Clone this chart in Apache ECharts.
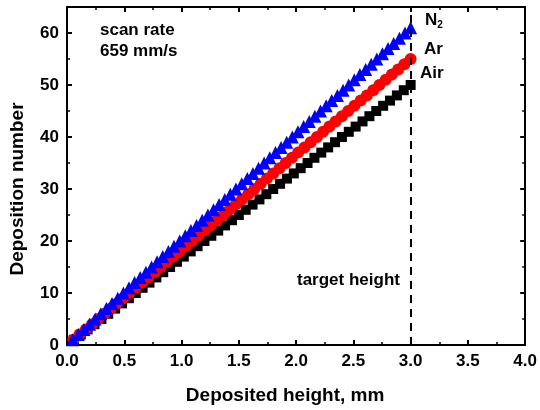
<!DOCTYPE html>
<html lang="en">
<head>
    <meta charset="UTF-8">
    <title>Deposition number vs height</title>
    <script src="https://cdn.jsdelivr.net/npm/echarts@6/dist/echarts.min.js"></script>
    <style>
        body { margin: 0; background: #fff; }
    </style>
</head>
<body>
    <div id="main" style="width: 540px;height: 410px"></div>
    <script type="text/javascript">
        // deposition numbers (layer count)
        var layerNo = [1,2,3,4,5,6,7,8,9,10,11,12,13,14,15,16,17,18,19,20,
            21,22,23,24,25,26,27,28,29,30,31,32,33,34,35,36,37,38,39,40,
            41,42,43,44,45,46,47,48,49,50,51,52,53,54,55,56,57,58,59,60,61];

        // deposited height (mm) for each layer
        var airHeight = [0.06,0.12,0.18,0.24,0.30,0.36,0.42,0.48,0.54,0.60,
            0.66,0.72,0.78,0.84,0.90,0.96,1.02,1.08,1.14,1.20,
            1.26,1.32,1.38,1.44,1.50,1.56,1.62,1.68,1.74,1.80,
            1.86,1.92,1.98,2.04,2.10,2.16,2.22,2.28,2.34,2.40,
            2.46,2.52,2.58,2.64,2.70,2.76,2.82,2.88,2.94,3.00];
        var arHeight = [0.055,0.109,0.164,0.218,0.273,0.327,0.382,0.436,0.491,0.545,
            0.600,0.655,0.709,0.764,0.818,0.873,0.927,0.982,1.036,1.091,
            1.145,1.200,1.255,1.309,1.364,1.418,1.473,1.527,1.582,1.636,
            1.691,1.745,1.800,1.855,1.909,1.964,2.018,2.073,2.127,2.182,
            2.236,2.291,2.345,2.400,2.455,2.509,2.564,2.618,2.673,2.727,
            2.782,2.836,2.891,2.945,3.000];
        var n2Height = [0.049,0.098,0.148,0.197,0.246,0.295,0.344,0.393,0.443,0.492,
            0.541,0.590,0.639,0.689,0.738,0.787,0.836,0.885,0.934,0.984,
            1.033,1.082,1.131,1.180,1.230,1.279,1.328,1.377,1.426,1.475,
            1.525,1.574,1.623,1.672,1.721,1.770,1.820,1.869,1.918,1.967,
            2.016,2.066,2.115,2.164,2.213,2.262,2.311,2.361,2.410,2.459,
            2.508,2.557,2.607,2.656,2.705,2.754,2.803,2.852,2.902,2.951,3.000];

        var yTicks = [0, 10, 20, 30, 40, 50, 60];
        var targetHeight = 3.0;

        function pairs(h) {
            return h.map(function (v, i) { return [v, layerNo[i]]; });
        }

        var myChart = echarts.init(document.getElementById('main'));
        var font = 'Liberation Sans, Arial, sans-serif';

        var axisCommon = {
            axisLine: { onZero: false, lineStyle: { color: '#000', width: 2 } },
            axisTick: { inside: true, length: 5, lineStyle: { color: '#000', width: 2 } },
            minorTick: { show: true, splitNumber: 2, length: 3, lineStyle: { color: '#000', width: 1.5 } },
            splitLine: { show: false },
            axisLabel: { color: '#000', fontWeight: 'bold', fontSize: 17, fontFamily: font }
        };

        var option = {
            backgroundColor: '#fff',
            animation: false,
            grid: { left: 66, right: 14, top: 7, bottom: 63 },
            xAxis: [
                Object.assign({}, axisCommon, {
                    type: 'value', min: 0, max: 4, interval: 0.5,
                    name: 'Deposited height, mm', nameLocation: 'middle', nameGap: 41,
                    nameTextStyle: { color: '#000', fontWeight: 'bold', fontSize: 19, fontFamily: font,
                        padding: [0, 22, 0, 0] },
                    axisLabel: Object.assign({}, axisCommon.axisLabel, {
                        margin: 8,
                        formatter: function (v) { return v.toFixed(1); }
                    })
                }),
                Object.assign({}, axisCommon, {
                    type: 'value', min: 0, max: 4, interval: 0.5, position: 'top',
                    axisLabel: { show: false }
                })
            ],
            yAxis: [
                Object.assign({}, axisCommon, {
                    type: 'value', min: 0, max: 65, interval: 10,
                    name: 'Deposition number', nameLocation: 'middle', nameGap: 40,
                    nameTextStyle: { color: '#000', fontWeight: 'bold', fontSize: 19, fontFamily: font,
                        padding: [0, 26, 0, 0] },
                    axisLabel: Object.assign({}, axisCommon.axisLabel, {
                        margin: 8,
                        formatter: function (v) { return yTicks.indexOf(v) >= 0 ? v : ''; }
                    })
                }),
                Object.assign({}, axisCommon, {
                    type: 'value', min: 0, max: 65, interval: 10, position: 'right',
                    axisLabel: { show: false }
                })
            ],
            series: [
                {
                    name: 'Air', type: 'scatter', symbol: 'rect', symbolSize: 10,
                    itemStyle: { color: '#000', opacity: 1 }, z: 2,
                    data: pairs(airHeight),
                    markLine: {
                        silent: true, symbol: 'none', label: { show: false },
                        lineStyle: { color: '#000', type: [8, 6], width: 2 },
                        data: [[{ coord: [targetHeight, 0] }, { coord: [targetHeight, 65] }]]
                    }
                },
                {
                    name: 'Ar', type: 'scatter', symbol: 'circle', symbolSize: 12,
                    itemStyle: { color: '#ff0000', opacity: 1 }, z: 3,
                    data: pairs(arHeight)
                },
                {
                    name: 'N2', type: 'scatter', symbol: 'triangle', symbolSize: 13,
                    itemStyle: { color: '#0000ff', opacity: 1 }, z: 4,
                    data: pairs(n2Height)
                }
            ],
            graphic: [
                { type: 'text', left: 100, top: 20,
                  style: { text: 'scan rate\n659 mm/s', fill: '#000', font: 'bold 17px ' + font, lineHeight: 21 } },
                { type: 'text', left: 425, top: 12,
                  style: { text: '{a|N}{b|2}', rich: {
                      a: { fontSize: 17, fontWeight: 'bold', fontFamily: font, fill: '#000' },
                      b: { fontSize: 10, fontWeight: 'bold', fontFamily: font, fill: '#000', padding: [10, 0, 0, 0] }
                  } } },
                { type: 'text', left: 424, top: 41,
                  style: { text: 'Ar', fill: '#000', font: 'bold 17px ' + font } },
                { type: 'text', left: 420, top: 65,
                  style: { text: 'Air', fill: '#000', font: 'bold 17px ' + font } },
                { type: 'text', left: 297, top: 272,
                  style: { text: 'target height', fill: '#000', font: 'bold 17px ' + font } }
            ]
        };

        myChart.setOption(option);
    </script>
</body>
</html>
